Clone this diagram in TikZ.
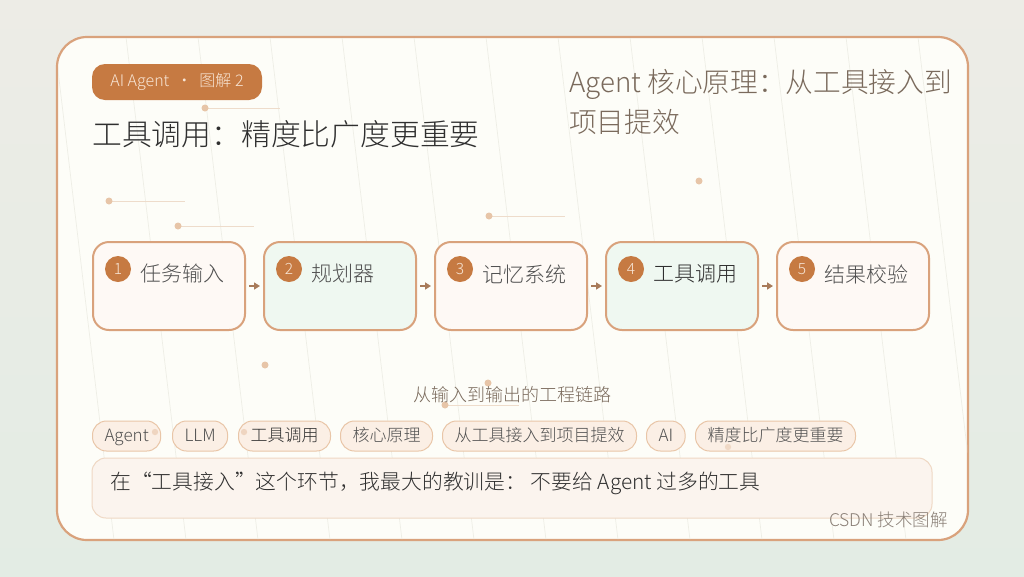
\documentclass[tikz,border=0pt]{standalone}
\usepackage{fontspec}
\IfFontExistsTF{Noto Sans CJK SC Light}{\setmainfont{Noto Sans CJK SC Light}}{\setmainfont{Noto Sans CJK SC}}
\usetikzlibrary{calc,arrows.meta}
\definecolor{bgA}{HTML}{EDECE6}
\definecolor{bgB}{HTML}{E3ECE4}
\definecolor{card}{HTML}{FDFDF8}
\definecolor{cardline}{HTML}{D9A27C}
\definecolor{accent}{HTML}{C67A42}
\definecolor{mint}{HTML}{EFF8F1}
\definecolor{warm}{HTML}{FEF9F5}
\definecolor{dotc}{HTML}{E7C5A8}
\definecolor{linec}{HTML}{EEDCCB}
\definecolor{faint}{HTML}{EEEEE6}
\definecolor{txt}{HTML}{2F2F2F}
\definecolor{lbl}{HTML}{505050}
\definecolor{soft}{HTML}{7A6A5C}
\definecolor{badgetxt}{HTML}{F8E6D6}
\definecolor{tagfill}{HTML}{FBEFE5}
\definecolor{tagline}{HTML}{E9C6A8}
\definecolor{quotefill}{HTML}{FBF4EE}
\definecolor{quoteline}{HTML}{EFD8C4}
\definecolor{arrowc}{HTML}{A87B5A}
\definecolor{brandc}{HTML}{8A7F76}
\tikzset{
  stepbox/.style={draw=cardline, line width=2pt, rounded corners=16pt, minimum width=152pt, minimum height=88pt},
  numdot/.style={circle, fill=accent, minimum size=26pt, inner sep=0pt, text=badgetxt, font=\fontsize{15.5}{18}\selectfont},
  steplabel/.style={anchor=west, inner sep=0pt, text=lbl, font=\fontsize{21}{24}\selectfont},
  arr/.style={draw=arrowc, line width=2pt, -{Triangle[length=6pt,width=7pt]}, shorten <=3pt, shorten >=3pt},
  tag/.style={anchor=west, draw=tagline, fill=tagfill, line width=1pt, rounded corners=14pt, minimum height=30pt, inner xsep=12pt, inner ysep=0pt, text height=14pt, text depth=3pt, text=lbl, font=\fontsize{17}{19}\selectfont},
  deco/.style={fill=dotc},
  decoline/.style={draw=linec, line width=1pt}
}
\begin{document}
\begin{tikzpicture}[x=1pt,y=-1pt]
\useasboundingbox (0,0) rectangle (1024,576);
\shade[top color=bgA, bottom color=bgB] (0,0) rectangle (1024,576);
% card
\draw[fill=card, draw=cardline, line width=2.2pt, rounded corners=30pt] (57,37) rectangle (968,540);
\begin{scope}
\clip[rounded corners=29pt] (58,38) rectangle (967,539);
\foreach \x in {54,126,...,1000} \draw[faint, line width=0.7pt] (\x,37) -- (\x+60,540);
\end{scope}
% decorations
\draw[decoline] (205,108) -- (280,108); \fill[deco] (205,108) circle (3.5);
\draw[decoline] (109,201) -- (185,201); \fill[deco] (109,201) circle (3.5);
\draw[decoline] (178,226) -- (254,226); \fill[deco] (178,226) circle (3.5);
\draw[decoline] (489,216) -- (565,216); \fill[deco] (489,216) circle (3.5);
\fill[deco] (699,181) circle (3.5);
\fill[deco] (265,365) circle (3.5);
\fill[deco] (488,383) circle (3.5);
\draw[decoline] (445,405) -- (519,405); \fill[deco] (445,405) circle (3.5);
% badge and titles
\node[fill=accent, rounded corners=13pt, minimum width=170pt, minimum height=36pt, inner sep=0pt, text=badgetxt, font=\fontsize{16}{19}\selectfont] (badge) at (177,82) {AI Agent\ \ ·\ \ 图解 2};
\node[anchor=west, inner sep=0pt, text=txt, font=\fontsize{29.8}{34}\selectfont] (title) at (92,134) {工具调用：精度比广度更重要};
\node[anchor=north west, align=left, inner sep=0pt, text=soft, font=\fontsize{27.7}{40}\selectfont] (subtitle) at (569,69) {Agent 核心原理：从工具接入到\\项目提效};
% steps
\node[stepbox, fill=warm] (b1) at (169,286) {};
\node[stepbox, fill=mint] (b2) at (340,286) {};
\node[stepbox, fill=warm] (b3) at (511,286) {};
\node[stepbox, fill=mint] (b4) at (682,286) {};
\node[stepbox, fill=warm] (b5) at (853,286) {};
\foreach \i/\t in {1/任务输入,2/规划器,3/记忆系统,5/结果校验}{
  \node[numdot] (n\i) at ($(b\i.north west)+(26,28)$) {\i};
  \node[steplabel] (l\i) at ($(b\i.north west)+(48,33)$) {\t};
}
\node[numdot] (n4) at ($(b4.north west)+(26,28)$) {4};
\node[steplabel, text=txt] (l4) at ($(b4.north west)+(48,33)$) {工具调用};
\draw[arr] (b1.east) -- (b2.west);
\draw[arr] (b2.east) -- (b3.west);
\draw[arr] (b3.east) -- (b4.west);
\draw[arr] (b4.east) -- (b5.west);
% chain caption
\node[inner sep=0pt, text=soft, font=\fontsize{18}{20}\selectfont] (chain) at (512,395) {从输入到输出的工程链路};
% tags
\node[tag] (t1) at (92,436) {Agent};
\node[tag] (t2) at (172,436) {LLM};
\node[tag, text=txt] (t3) at (238,436) {工具调用};
\node[tag] (t4) at (340,436) {核心原理};
\node[tag] (t5) at (442,436) {从工具接入到项目提效};
\node[tag] (t6) at (646,436) {AI};
\node[tag] (t7) at (695,436) {精度比广度更重要};
\fill[deco, opacity=0.6] (155,432) circle (3.2);
\fill[deco, opacity=0.6] (244,432) circle (3.2);
\fill[deco, opacity=0.5] (728,447) circle (3.2);
% quote
\node[draw=quoteline, fill=quotefill, line width=1pt, rounded corners=14pt, minimum width=840pt, minimum height=60pt] (quote) at (512,488) {};
\node[anchor=west, inner sep=0pt, text=txt, font=\fontsize{20.8}{24}\selectfont] (quotetext) at (110,483) {在“工具接入”这个环节，我最大的教训是： 不要给 Agent 过多的工具};
\node[anchor=east, inner sep=0pt, text=brandc, font=\fontsize{17.5}{20}\selectfont] (brand) at (948,520) {CSDN 技术图解};
\end{tikzpicture}
\end{document}
